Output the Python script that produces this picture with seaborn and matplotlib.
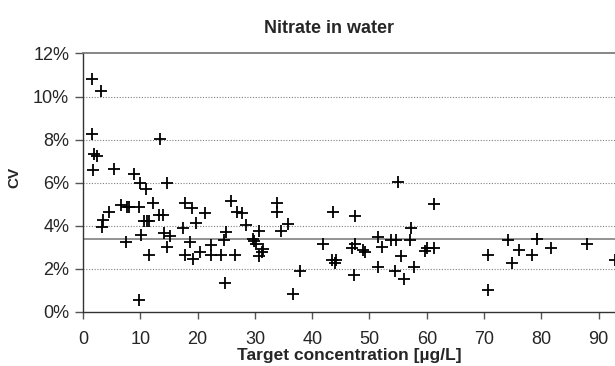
import numpy as np
import pandas as pd
import matplotlib
matplotlib.use("Agg")
import matplotlib.pyplot as plt
import seaborn as sns
from matplotlib.ticker import PercentFormatter

# Target concentration [ug/L] and CV [%]
target_conc = [1.5, 3.1, 1.5, 13.5, 1.9, 2.4, 1.7, 5.4, 8.9,
               9.95, 11.0, 14.7, 4.5, 3.5, 3.35, 6.6, 7.6, 8.1, 9.8, 12.2,
               10.6, 11.2, 11.6, 13.3, 13.9, 17.8, 19.1, 21.3, 19.8, 17.4,
               14.1, 15.1, 10.2, 7.5, 14.7, 18.7, 11.6, 17.8, 19.2, 20.4, 9.8,
               25.8, 26.8, 27.7, 28.4, 25.0, 24.6, 22.3, 22.3, 24.0, 26.5, 24.7,
               30.8, 29.6, 29.8, 30.2, 31.4, 31.2, 30.8, 33.8, 33.8, 34.6, 35.7,
               37.8, 36.7, 43.6, 41.8, 43.5, 44.2, 44.0,
               47.5, 55.0, 61.3, 57.2, 51.4, 53.7, 54.7, 57.1, 52.1, 47.5, 46.9,
               48.9, 49.2, 55.5, 60.1, 59.7, 61.3, 51.5, 47.3, 54.5, 57.8, 56.0,
               74.2, 79.2, 76.1, 78.3, 81.7, 87.9, 70.7, 74.8, 70.6, 92.8]
cv_pct = [10.8, 10.24, 8.27, 8.04, 7.32, 7.24, 6.59, 6.64, 6.42,
          6.0, 5.7, 6.0, 4.65, 4.27, 3.93, 4.96, 4.85, 4.85, 4.85, 5.04,
          4.24, 4.24, 4.24, 4.51, 4.51, 5.04, 4.80, 4.57, 4.13, 3.88,
          3.67, 3.54, 3.57, 3.23, 3.03, 3.23, 2.65, 2.65, 2.47, 2.77, 0.57,
          5.13, 4.65, 4.57, 4.05, 3.70, 3.34, 3.11, 2.62, 2.62, 2.62, 1.34,
          3.74, 3.39, 3.31, 3.16, 2.93, 2.77, 2.57, 5.04, 4.65, 3.77, 4.08,
          1.89, 0.82, 4.62, 3.16, 2.39, 2.39, 2.26,
          4.44, 6.04, 5.0, 3.90, 3.47, 3.34, 3.34, 3.34, 3.0, 3.13, 2.97,
          2.85, 2.77, 2.57, 2.97, 2.82, 2.97, 2.08, 1.70, 1.89, 2.08, 1.54,
          3.34, 3.39, 2.85, 2.65, 2.97, 3.16, 2.65, 2.28, 1.03, 2.42]
cv_mean = 3.4
y_ticks = [0, 2, 4, 6, 8, 10, 12]
x_ticks = [0, 10, 20, 30, 40, 50, 60, 70, 80, 90]

df = pd.DataFrame({"conc": target_conc, "cv": cv_pct})

sns.set_theme(style="white")
plt.rcParams["font.family"] = ["Liberation Sans", "DejaVu Sans"]

fig = plt.figure(figsize=(6.15, 3.66), dpi=100)
ax = fig.add_axes([0.135, 0.148, 0.865, 0.706])

# reference lines
for t in y_ticks[1:-1]:
    ax.axhline(t, color="#808080", linestyle=(0, (1, 1.5)), linewidth=0.8, zorder=1)
ax.axhline(cv_mean, color="#808080", linewidth=1.2, zorder=1)

sns.scatterplot(data=df, x="conc", y="cv", marker="+", color="black",
                s=70, linewidth=1.3, ax=ax, zorder=3, clip_on=False)

ax.set_xlim(0, 92.85)
ax.set_ylim(0, 12)
ax.set_xticks(x_ticks)
ax.set_yticks(y_ticks)
ax.yaxis.set_major_formatter(PercentFormatter(decimals=0))

for side in ["left", "bottom"]:
    ax.spines[side].set_color("#333333")
    ax.spines[side].set_linewidth(1.0)
ax.spines["top"].set_color("#777777")
ax.spines["right"].set_visible(False)

ax.tick_params(axis="both", direction="out", width=1, color="#555555", labelsize=13)
ax.tick_params(axis="x", bottom=True, length=5, pad=9)
ax.tick_params(axis="y", left=True, length=6, pad=4)

fig.text(0.535, 0.923, "Nitrate in water", fontsize=13, fontweight="bold",
         ha="center", va="center")
ax.set_xlabel("Target concentration [µg/L]", fontsize=12.5, fontweight="bold", labelpad=0)
ax.set_ylabel("CV", fontsize=11, fontweight="bold")
ax.yaxis.set_label_coords(-0.115, 0.52)

fig.savefig("out.png", dpi=100)
